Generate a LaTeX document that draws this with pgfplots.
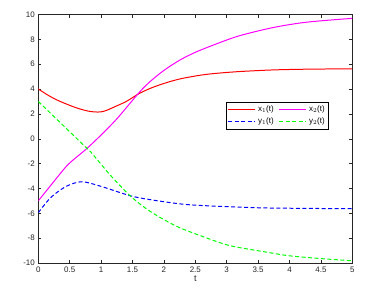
\documentclass[border=0pt]{standalone}
\usepackage{pgfplots}
\pgfplotsset{compat=1.18}
\usepackage{fontspec}
\setmainfont{Liberation Sans}
\definecolor{axgray}{rgb}{0.15,0.15,0.15}
\definecolor{cmag}{rgb}{1,0,1}
\begin{document}
\begin{tikzpicture}
\begin{axis}[
  scale only axis,
  width=314bp, height=248.5bp,
  xmin=0, xmax=5, ymin=-10, ymax=10,
  xtick={0,0.5,...,5}, ytick={-10,-8,...,10},
  xticklabels={0,0.5,1,1.5,2,2.5,3,3.5,4,4.5,5},
  tick align=inside,
  major tick length=3bp,
  axis line style={axgray, line width=0.6pt},
  tick style={axgray, line width=0.5pt},
  tick label style={font=\fontsize{8}{9}\selectfont, text=axgray},
  /pgf/number format/assume math mode=true,
  xlabel={t},
  xlabel style={font=\fontsize{9}{10}\selectfont, text=axgray, yshift=3bp},
  legend columns=2,
  legend cell align=left,
  legend style={at={(axis description cs:0.924,0.6475)}, anchor=north east,
    font=\fontsize{8}{9}\selectfont,
    inner sep=1.5pt, row sep=1pt,
    /tikz/every even column/.append style={column sep=3pt}},
  legend image code/.code={\draw[#1, line width=1.5pt] (0cm,0cm) -- (0.95cm,0cm);},
]
\addplot[red, line width=1pt, smooth] coordinates {
(0,4.00) (0.19,3.40) (0.35,3.00) (0.60,2.50) (0.80,2.22) (0.955,2.15) (1.05,2.22) (1.14,2.40) (1.25,2.65)
(1.40,3.00) (1.60,3.62) (1.78,4.05) (2.00,4.45) (2.26,4.82) (2.60,5.13) (2.87,5.28) (3.21,5.41)
(3.74,5.54) (4.30,5.60) (5.00,5.63)};
\addplot[cmag, line width=1pt, smooth] coordinates {
(0,-5.00) (0.27,-3.30) (0.45,-2.20) (0.58,-1.60) (0.77,-0.80) (1.03,0.45) (1.25,1.60)
(1.46,2.85) (1.62,3.80) (1.78,4.60) (2.00,5.50) (2.26,6.35) (2.52,7.00) (2.87,7.70) (3.21,8.30)
(3.74,8.95) (4.27,9.38) (5.00,9.69)};
\addplot[blue, line width=1pt, smooth, dash pattern=on 4pt off 2.5pt] coordinates {
(0,-5.95) (0.19,-4.77) (0.40,-3.96) (0.58,-3.56) (0.74,-3.48) (1.03,-3.88)
(1.46,-4.58) (1.78,-4.90) (2.31,-5.27) (2.84,-5.43) (3.64,-5.57) (5.00,-5.63)};
\addplot[green, line width=1pt, smooth, dash pattern=on 4pt off 2.5pt] coordinates {
(0,3.00) (0.77,-0.75) (0.85,-1.15) (1.14,-2.89) (1.46,-4.58) (1.78,-5.84)
(2.20,-7.04) (2.63,-7.89) (3.05,-8.60) (3.64,-9.13) (4.00,-9.42) (4.54,-9.66)
(5.00,-9.82)};
\legend{x$_1$(t), x$_2$(t), y$_1$(t), y$_2$(t)}
\end{axis}
\path ([shift={(-38.3bp,-35bp)}]current axis.south west) rectangle ([shift={(30.7bp,14.5bp)}]current axis.north east);
\end{tikzpicture}
\end{document}
